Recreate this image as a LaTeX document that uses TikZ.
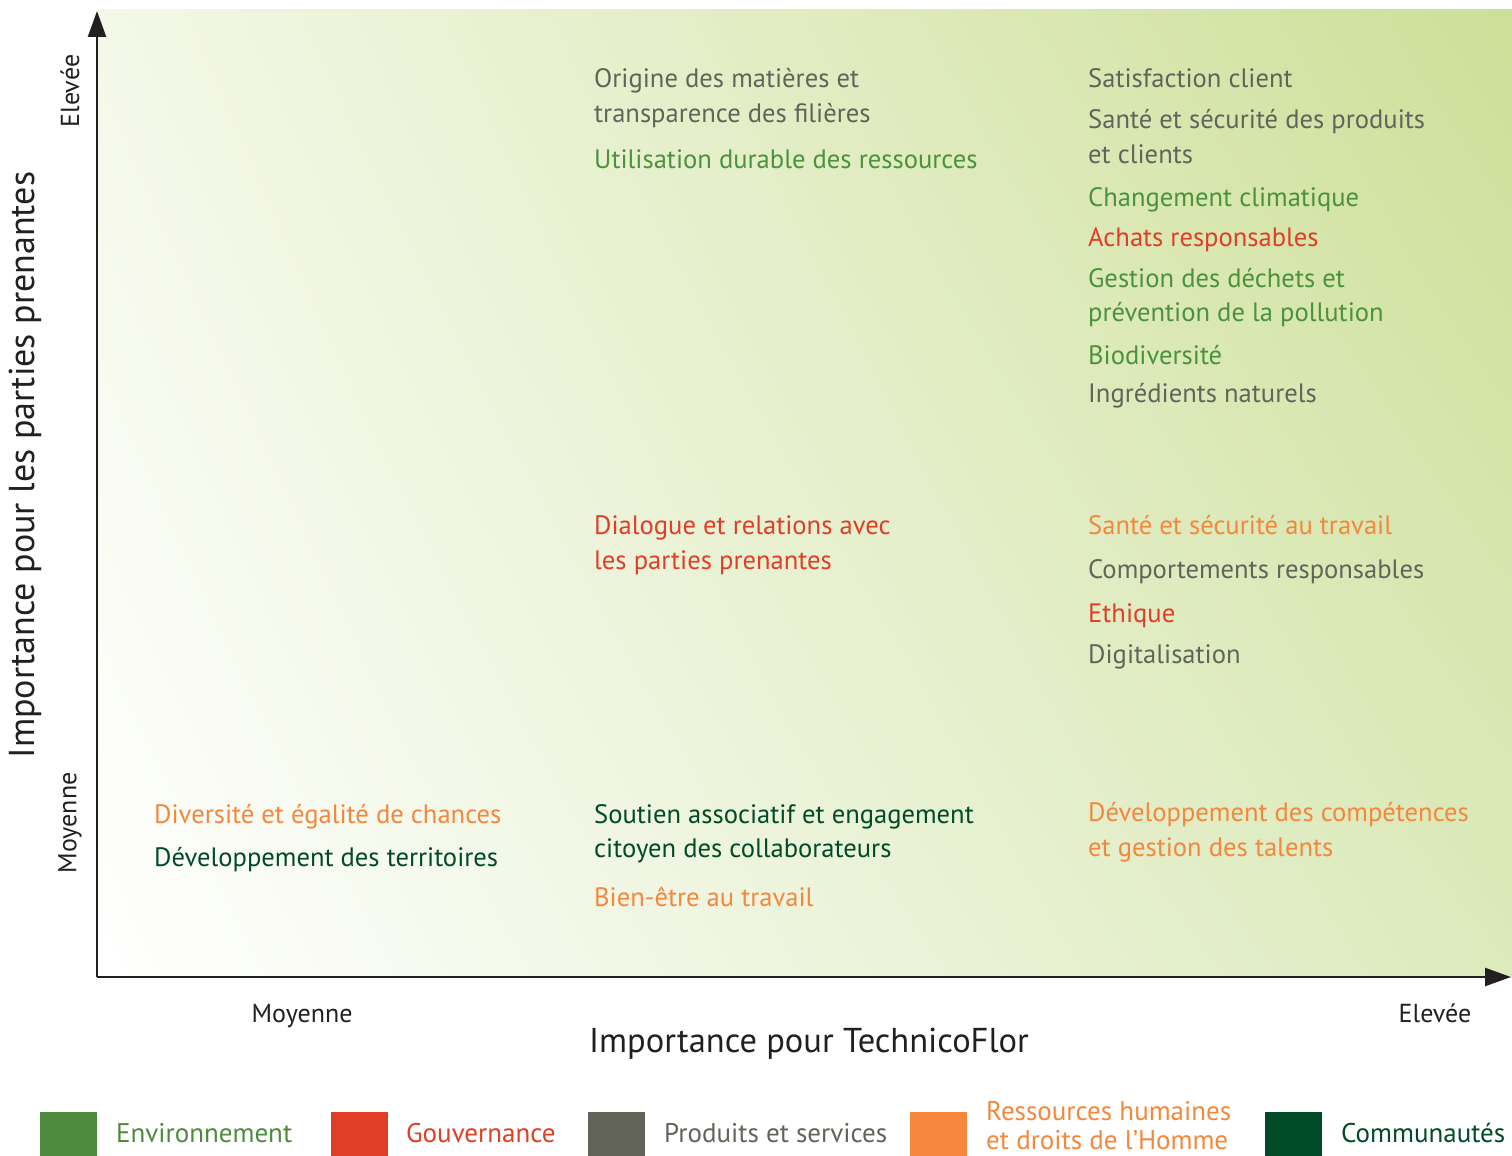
\documentclass[tikz,border=0pt]{standalone}
\usepackage{fontspec}
\setmainfont{PT Sans}
\usetikzlibrary{arrows.meta,shadings}
\definecolor{envg}{HTML}{4E8A3E}
\definecolor{envt}{HTML}{4B923D}
\definecolor{govr}{HTML}{E03E26}
\definecolor{prodg}{HTML}{62645A}
\definecolor{hro}{HTML}{F5873C}
\definecolor{comg}{HTML}{004B27}
\definecolor{axk}{HTML}{231F20}
\definecolor{bgUL}{HTML}{F4F8E8}
\definecolor{bgUR}{HTML}{CDDF98}
\definecolor{bgLR}{HTML}{DCEABC}
\begin{document}
\begin{tikzpicture}[x=1pt,y=-1pt,
  item/.style={anchor=base west, inner sep=0pt, font=\fontsize{26.6}{32}\selectfont},
  env/.style={item, text=envt},
  gov/.style={item, text=govr},
  prod/.style={item, text=prodg},
  hr/.style={item, text=hro},
  com/.style={item, text=comg},
  axlab/.style={inner sep=0pt, text=axk, font=\fontsize{26}{30}\selectfont},
  axtitle/.style={inner sep=0pt, text=axk, font=\fontsize{34.5}{40}\selectfont},
  legbox/.style={minimum width=57pt, minimum height=44pt, inner sep=0pt, anchor=north west},
  leglab/.style={anchor=west, inner sep=0pt, font=\fontsize{27}{33}\selectfont},
  axline/.style={line width=2.5pt, draw=axk, -{Triangle[length=26pt,width=18pt]}}
]
\useasboundingbox (0,0) rectangle (1512,1156);
% background gradient
\shade[upper left=bgUL, upper right=bgUR, lower left=white, lower right=bgLR]
  (98,10) rectangle (1512,977);

% axes
\coordinate (O) at (97,977);
\coordinate (Ytop) at (97,11);
\coordinate (Xend) at (1511,977);
\draw[axline] (O) -- (Ytop);
\draw[axline] (O) -- (Xend);

% axis labels
\node[axlab, rotate=90] (yhigh) at (70,91) {Elevée};
\node[axlab, rotate=90] (ymid) at (70,823) {Moyenne};
\node[axtitle, rotate=90, font=\fontsize{36}{42}\selectfont] (ytitle) at (25,465) {Importance pour les parties prenantes};
\node[axlab, anchor=base] (xmid) at (302,1022) {Moyenne};
\node[axlab, anchor=base] (xhigh) at (1435,1022) {Elevée};
\node[axtitle, anchor=base] (xtitle) at (809,1052) {Importance pour TechnicoFlor};

% top middle
\node[prod] (a1) at (594,87) {Origine des matières et};
\node[prod] (a2) at (594,122) {transparence des filières};
\node[env] (a3) at (594,168) {Utilisation durable des ressources};

% top right
\node[prod] (b1) at (1088,87) {Satisfaction client};
\node[prod] (b2) at (1088,128) {Santé et sécurité des produits};
\node[prod] (b3) at (1088,163) {et clients};
\node[env] (b4) at (1088,206) {Changement climatique};
\node[gov] (b5) at (1088,246) {Achats responsables};
\node[env] (b6) at (1088,287) {Gestion des déchets et};
\node[env] (b7) at (1088,321) {prévention de la pollution};
\node[env] (b8) at (1088,364) {Biodiversité};
\node[prod] (b9) at (1088,402) {Ingrédients naturels};

% middle row
\node[gov] (c1) at (594,534) {Dialogue et relations avec};
\node[gov] (c2) at (594,569) {les parties prenantes};
\node[hr] (d1) at (1088,534) {Santé et sécurité au travail};
\node[prod] (d2) at (1088,578) {Comportements responsables};
\node[gov] (d3) at (1088,622) {Ethique};
\node[prod] (d4) at (1088,663) {Digitalisation};

% bottom row
\node[hr] (e1) at (154,823) {Diversité et égalité de chances};
\node[com] (e2) at (154,866) {Développement des territoires};
\node[com] (f1) at (594,823) {Soutien associatif et engagement};
\node[com] (f2) at (594,857) {citoyen des collaborateurs};
\node[hr] (f3) at (594,906) {Bien-être au travail};
\node[hr] (g1) at (1088,821) {Développement des compétences};
\node[hr] (g2) at (1088,856) {et gestion des talents};

% legend
\node[legbox, fill=envg] (l1) at (40,1112) {};
\node[leglab, text=envg] (t1) at (116,1133) {Environnement};
\node[legbox, fill=govr] (l2) at (331,1112) {};
\node[leglab, text=govr] (t2) at (406,1133) {Gouvernance};
\node[legbox, fill=prodg] (l3) at (588,1112) {};
\node[leglab, text=prodg] (t3) at (664,1133) {Produits et services};
\node[legbox, fill=hro] (l4) at (910,1112) {};
\node[leglab, text=hro, anchor=base west] (t4a) at (986,1120) {Ressources humaines};
\node[leglab, text=hro, anchor=base west] (t4b) at (986,1149) {et droits de l’Homme};
\node[legbox, fill=comg] (l5) at (1265,1112) {};
\node[leglab, text=comg] (t5) at (1341,1133) {Communautés};
\end{tikzpicture}
\end{document}
